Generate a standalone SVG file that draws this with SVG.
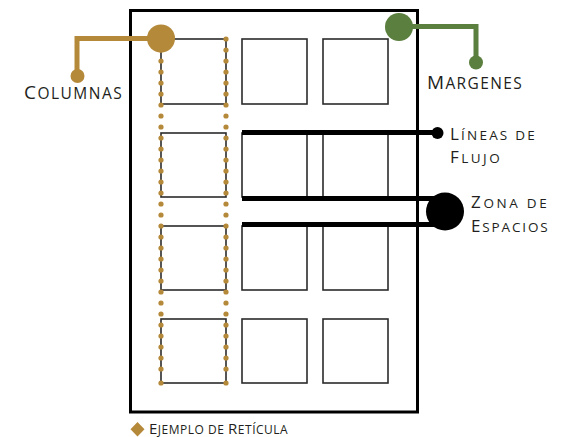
<svg xmlns="http://www.w3.org/2000/svg" width="567" height="437" viewBox="0 0 567 437">
<style>
.box{fill:none;stroke:#2b2b2b;stroke-width:1.6}
.gold{fill:#b5893a}
.green{fill:#5a7f3e}
.lbl{font-family:"Open Sans","Noto Sans",sans-serif;fill:#231f20;font-weight:500;letter-spacing:0.3px}
.flow{stroke:#000;stroke-width:5;fill:none}
</style>
<defs>
<circle id="d" r="2.6" class="gold"/>
<g id="dotcol">
<use href="#d" y="39"/><use href="#d" y="50"/><use href="#d" y="61"/><use href="#d" y="72"/><use href="#d" y="83"/><use href="#d" y="94"/><use href="#d" y="105"/><use href="#d" y="116"/><use href="#d" y="127"/><use href="#d" y="138"/><use href="#d" y="149"/><use href="#d" y="160"/><use href="#d" y="171"/><use href="#d" y="182"/><use href="#d" y="193"/><use href="#d" y="204"/><use href="#d" y="215"/><use href="#d" y="226"/><use href="#d" y="237"/><use href="#d" y="248"/><use href="#d" y="259"/><use href="#d" y="270"/><use href="#d" y="281"/><use href="#d" y="292"/><use href="#d" y="303"/><use href="#d" y="314"/><use href="#d" y="325"/><use href="#d" y="336"/><use href="#d" y="347"/><use href="#d" y="358"/><use href="#d" y="369"/><use href="#d" y="383"/>
</g>
</defs>
<rect width="567" height="437" fill="#fff"/>

<g id="frame">
<rect x="130.5" y="10.5" width="287" height="401.5" fill="none" stroke="#000" stroke-width="3"/>
</g>

<g id="grid">
<rect class="box" x="161" y="39" width="65" height="65"/>
<rect class="box" x="242" y="39" width="65" height="65"/>
<rect class="box" x="323" y="39" width="65" height="65"/>
<rect class="box" x="161" y="133" width="65" height="64"/>
<rect class="box" x="242" y="133" width="65" height="64"/>
<rect class="box" x="323" y="133" width="65" height="64"/>
<rect class="box" x="161" y="226" width="65" height="64"/>
<rect class="box" x="242" y="226" width="65" height="64"/>
<rect class="box" x="323" y="226" width="65" height="64"/>
<rect class="box" x="161" y="319" width="65" height="64"/>
<rect class="box" x="242" y="319" width="65" height="64"/>
<rect class="box" x="323" y="319" width="65" height="64"/>
</g>

<g id="column-dots">
<use href="#dotcol" x="161"/>
<use href="#dotcol" x="226"/>
</g>

<g id="connectors">
<polyline points="161,38.5 77,38.5 77,76" fill="none" stroke="#b5893a" stroke-width="5"/>
<polyline points="399,26.5 476,26.5 476,62" fill="none" stroke="#5a7f3e" stroke-width="5"/>
<line class="flow" x1="242" y1="132.5" x2="437" y2="132.5"/>
<line class="flow" x1="242" y1="198.5" x2="440" y2="198.5"/>
<line class="flow" x1="242" y1="224.5" x2="440" y2="224.5"/>
</g>

<g id="columnas">
<circle cx="161" cy="38.5" r="14" class="gold"/>
<circle cx="77.5" cy="76" r="7" class="gold"/>
<text class="lbl" x="24" y="99" textLength="98" lengthAdjust="spacing"><tspan font-size="19">C</tspan><tspan font-size="15.5">OLUMNAS</tspan></text>
</g>

<g id="margenes">
<circle cx="399" cy="27" r="14" class="green"/>
<circle cx="476" cy="62.5" r="7" class="green"/>
<text class="lbl" x="427" y="89" textLength="95" lengthAdjust="spacing"><tspan font-size="19">M</tspan><tspan font-size="15.5">ARGENES</tspan></text>
</g>

<g id="lineas-de-flujo">
<circle cx="437.5" cy="133" r="6" fill="#000"/>
<text class="lbl" x="450" y="140" textLength="85" lengthAdjust="spacing"><tspan font-size="17">L</tspan><tspan font-size="13.5">ÍNEAS DE</tspan></text>
<text class="lbl" x="450" y="163" textLength="50" lengthAdjust="spacing"><tspan font-size="17">F</tspan><tspan font-size="13.5">LUJO</tspan></text>
</g>

<g id="zona-de-espacios">
<circle cx="445" cy="211.5" r="19" fill="#000"/>
<text class="lbl" x="471" y="208" textLength="76" lengthAdjust="spacing"><tspan font-size="17">Z</tspan><tspan font-size="13.5">ONA DE</tspan></text>
<text class="lbl" x="471" y="231.5" textLength="77" lengthAdjust="spacing"><tspan font-size="17">E</tspan><tspan font-size="13.5">SPACIOS</tspan></text>
</g>

<g id="caption">
<polygon points="137.5,422 144.5,429.3 137.5,436.6 130.5,429.3" class="gold"/>
<text class="lbl" x="149" y="434" textLength="139" lengthAdjust="spacing"><tspan font-size="15">E</tspan><tspan font-size="12">JEMPLO DE </tspan><tspan font-size="15">R</tspan><tspan font-size="12">ETÍCULA</tspan></text>
</g>
</svg>
